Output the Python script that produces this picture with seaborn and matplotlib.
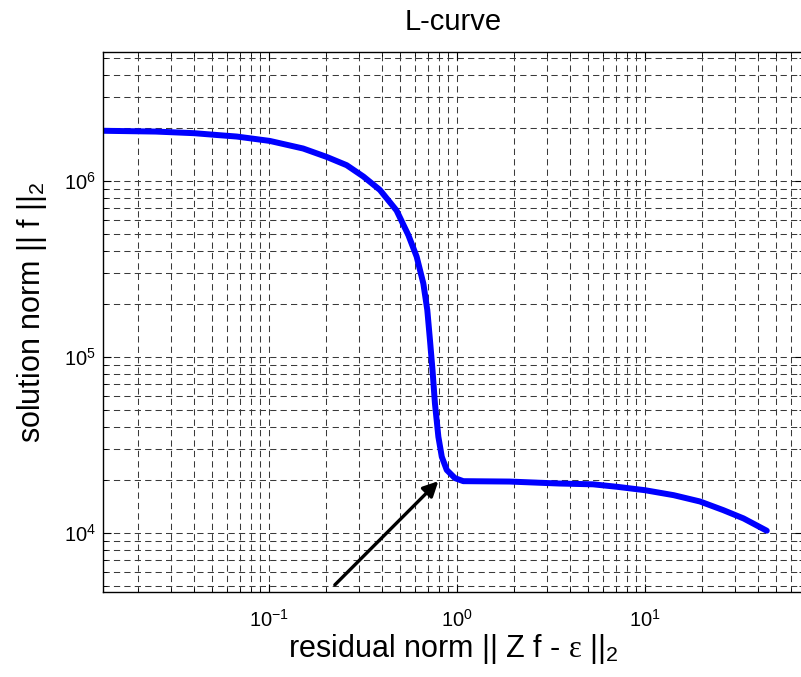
import matplotlib
matplotlib.use("Agg")
import matplotlib.pyplot as plt
import matplotlib.ticker as mticker
import seaborn as sns
import pandas as pd

# ---- data ----
residual_norm = [0.0131, 0.025, 0.04, 0.055, 0.0673, 0.101, 0.152, 0.203, 0.259, 0.318,
                 0.389, 0.477, 0.551, 0.61, 0.662, 0.695, 0.718, 0.741, 0.763, 0.796,
                 0.83, 0.882, 0.975, 1.08, 1.9, 3.5, 5.3, 7.1, 10.0, 14.2,
                 19.6, 26.0, 33.4, 44.4]
solution_norm = [1.93e6, 1.91e6, 1.87e6, 1.82e6, 1.79e6, 1.69e6, 1.53e6, 1.37e6, 1.23e6, 1.06e6,
                 8.9e5, 6.8e5, 4.93e5, 3.72e5, 2.62e5, 1.85e5, 1.25e5, 8.4e4, 5.46e4, 3.52e4,
                 2.71e4, 2.28e4, 2.05e4, 1.97e4, 1.96e4, 1.91e4, 1.89e4, 1.83e4, 1.75e4, 1.64e4,
                 1.51e4, 1.35e4, 1.21e4, 1.03e4]
arrow_tail = (0.224, 5.07e3)
arrow_head = (0.796, 1.97e4)

title_text = "L-curve"
xlabel_text = r"residual norm || Z f - $\varepsilon$ ||$_2$"
ylabel_text = r"solution norm || f ||$_2$"

sns.set_style("white")
plt.rcParams["font.family"] = ["Liberation Sans", "DejaVu Sans"]
plt.rcParams["mathtext.fontset"] = "custom"
plt.rcParams["mathtext.rm"] = "Liberation Sans"
plt.rcParams["mathtext.it"] = "Liberation Serif"
plt.rcParams["mathtext.cal"] = "Liberation Serif"
plt.rcParams["lines.scale_dashes"] = False
plt.rcParams["text.color"] = "black"
plt.rcParams["axes.labelcolor"] = "black"
plt.rcParams["xtick.color"] = "black"
plt.rcParams["ytick.color"] = "black"

df = pd.DataFrame({"residual": residual_norm, "solution": solution_norm})

fig = plt.figure(figsize=(8.01, 6.77), dpi=100)
W, H = 801, 677
left, right, top, bottom = 103, 803, 52, 592
ax = fig.add_axes([left / W, 1 - bottom / H, (right - left) / W, (bottom - top) / H])

ax.set_xscale("log")
ax.set_yscale("log")
ax.set_xlim(0.0131, 69.2)
ax.set_ylim(4.62e3, 5.41e6)

ax.grid(True, which="both", linestyle=(0, (4.5, 3.0)), color="#3a3a3a", linewidth=0.75)
ax.set_axisbelow(True)

sns.lineplot(data=df, x="residual", y="solution", ax=ax, color="#0000ff",
             linewidth=4.3, estimator=None, sort=False, legend=False)

ax.annotate("", xy=arrow_head, xytext=arrow_tail,
            arrowprops=dict(arrowstyle="-|>,head_length=0.9,head_width=0.45",
                            color="black", lw=2.4, shrinkA=0, shrinkB=0))

ax.xaxis.set_major_locator(mticker.LogLocator(base=10))
ax.xaxis.set_minor_locator(mticker.LogLocator(base=10, subs=range(2, 10)))
ax.yaxis.set_major_locator(mticker.LogLocator(base=10))
ax.yaxis.set_minor_locator(mticker.LogLocator(base=10, subs=range(2, 10)))
ax.xaxis.set_minor_formatter(mticker.NullFormatter())
ax.yaxis.set_minor_formatter(mticker.NullFormatter())

ax.tick_params(which="both", direction="in", top=True, right=True,
               bottom=True, left=True, color="black", labelcolor="black")
ax.tick_params(which="major", length=6, width=0.8, labelsize=14.5)
ax.tick_params(axis="x", which="major", pad=12)
ax.tick_params(axis="y", which="major", pad=5)
ax.tick_params(which="minor", length=3, width=0.6)

for s in ax.spines.values():
    s.set_color("black")
    s.set_linewidth(1.0)

ax.set_title(title_text, fontsize=21, pad=16, color="black")
ax.set_xlabel(xlabel_text, fontsize=22, labelpad=1)
ax.set_ylabel(ylabel_text, fontsize=22)
ax.yaxis.set_label_coords(-0.077, (592 - 312) / 540)

fig.savefig("out.png", dpi=100)
